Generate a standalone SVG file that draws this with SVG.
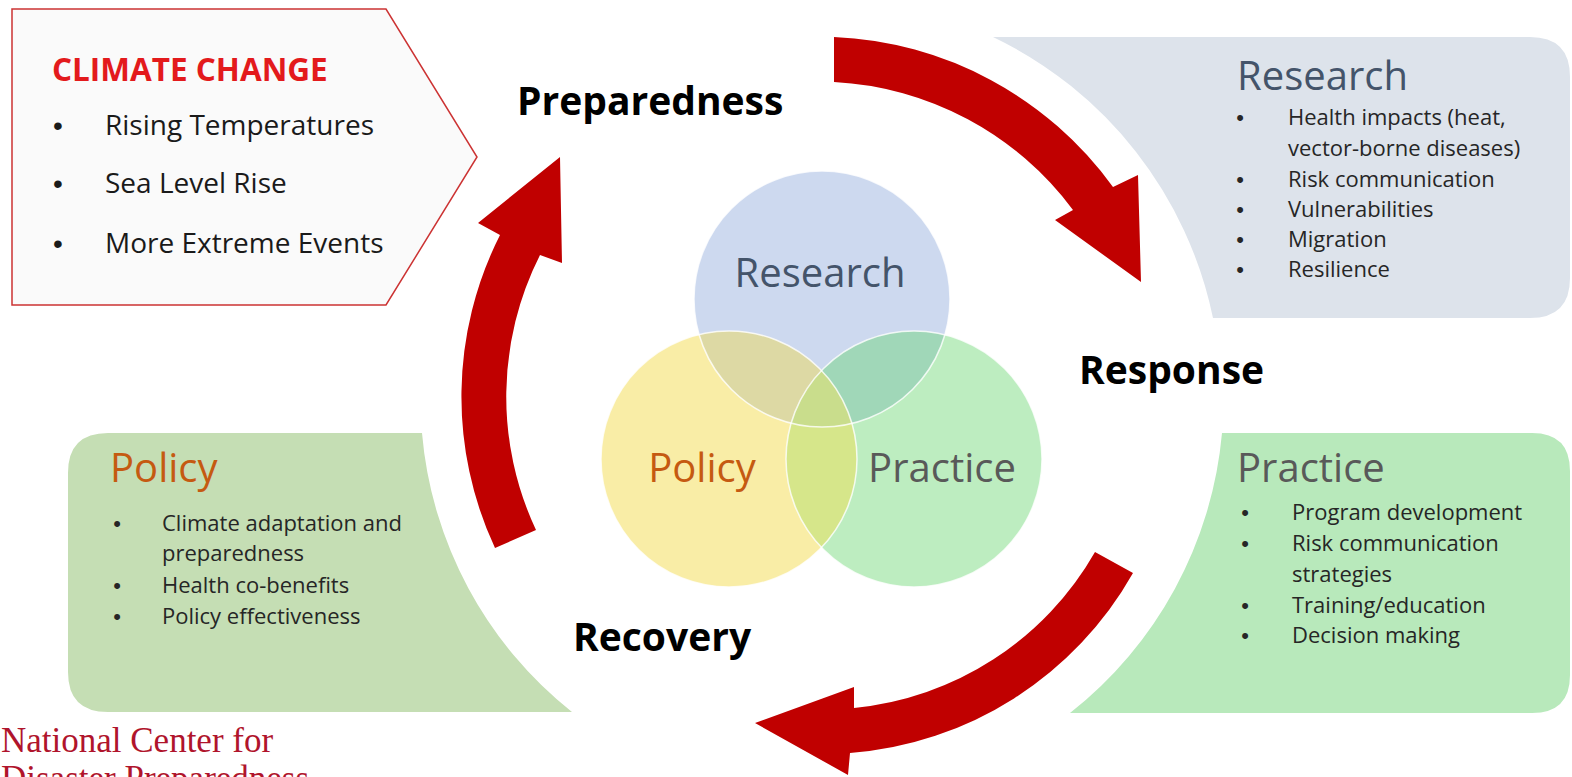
<svg xmlns="http://www.w3.org/2000/svg" width="1572" height="777" viewBox="0 0 1572 777">
<style>
.f{font-family:"Open Sans","Liberation Sans",sans-serif}
.phase{font-family:"Open Sans","Liberation Sans",sans-serif;font-weight:bold;font-size:39px;fill:#000}
.title{font-family:"Open Sans","Liberation Sans",sans-serif;font-size:40px}
.item{font-family:"Open Sans","Liberation Sans",sans-serif;font-size:22px;fill:#262626}
.big{font-family:"Open Sans","Liberation Sans",sans-serif;font-size:28px;fill:#1a1a1a}
.b{font-family:"Liberation Sans",Arial,sans-serif}
.arrow{fill:#c00000}
.ring{fill:none;stroke:#fff;stroke-width:1.5;stroke-opacity:0.8}
</style>
<defs>
<clipPath id="cR"><circle cx="822" cy="299" r="128"/></clipPath>
<clipPath id="cPo"><circle cx="729" cy="459" r="128"/></clipPath>
<clipPath id="cPr"><circle cx="914" cy="459" r="128"/></clipPath>
</defs>
<rect width="1572" height="777" fill="#fff"/>

<g id="research-box">
<path d="M993,37 L1530,37 Q1570,37 1570,77 L1570,278 Q1570,318 1530,318 L1213,318 A402,402 0 0 0 993,37 Z" fill="#dde3eb"/>
<text class="title" x="1237" y="90" fill="#44546a">Research</text>
<g class="item">
<text class="b" x="1240" y="125" text-anchor="middle">•</text><text x="1288" y="125">Health impacts (heat,</text>
<text x="1288" y="156">vector-borne diseases)</text>
<text class="b" x="1240" y="187" text-anchor="middle">•</text><text x="1288" y="187">Risk communication</text>
<text class="b" x="1240" y="217" text-anchor="middle">•</text><text x="1288" y="217">Vulnerabilities</text>
<text class="b" x="1240" y="247" text-anchor="middle">•</text><text x="1288" y="247">Migration</text>
<text class="b" x="1240" y="277" text-anchor="middle">•</text><text x="1288" y="277">Resilience</text>
</g>
</g>

<g id="practice-box">
<path d="M1222,433 L1532,433 Q1570,433 1570,471 L1570,675 Q1570,713 1532,713 L1070,713 A402,402 0 0 0 1222,433 Z" fill="#b8e9bb"/>
<text class="title" x="1237" y="482" fill="#595959">Practice</text>
<g class="item">
<text class="b" x="1245" y="520" text-anchor="middle">•</text><text x="1292" y="520">Program development</text>
<text class="b" x="1245" y="551" text-anchor="middle">•</text><text x="1292" y="551">Risk communication</text>
<text x="1292" y="582">strategies</text>
<text class="b" x="1245" y="613" text-anchor="middle">•</text><text x="1292" y="613">Training/education</text>
<text class="b" x="1245" y="643" text-anchor="middle">•</text><text x="1292" y="643">Decision making</text>
</g>
</g>

<g id="policy-box">
<path d="M422,433 L108,433 Q68,433 68,473 L68,672 Q68,712 108,712 L572,712 A400,400 0 0 1 422,433 Z" fill="#c5deb4"/>
<text class="title" x="110" y="482" fill="#c55a11">Policy</text>
<g class="item">
<text class="b" x="117" y="531" text-anchor="middle">•</text><text x="162" y="531">Climate adaptation and</text>
<text x="162" y="561">preparedness</text>
<text class="b" x="117" y="593" text-anchor="middle">•</text><text x="162" y="593">Health co-benefits</text>
<text class="b" x="117" y="624" text-anchor="middle">•</text><text x="162" y="624">Policy effectiveness</text>
</g>
</g>

<g id="climate-change">
<path d="M12,9 L386,9 L477,157 L386,305 L12,305 Z" fill="#fafafa" stroke="#cc3333" stroke-width="1.5"/>
<text class="f" x="52" y="81" font-size="31.5" font-weight="bold" fill="#e31a1c">CLIMATE CHANGE</text>
<g class="big">
<text class="b" x="58" y="135" text-anchor="middle">•</text><text x="105" y="135">Rising Temperatures</text>
<text class="b" x="58" y="193" text-anchor="middle">•</text><text x="105" y="193">Sea Level Rise</text>
<text class="b" x="58" y="253" text-anchor="middle">•</text><text x="105" y="253">More Extreme Events</text>
</g>
</g>

<g id="venn">
<g id="venn-research"><circle cx="822" cy="299" r="128" fill="#cdd9ef"/></g>
<g id="venn-policy"><circle cx="729" cy="459" r="128" fill="#f9eda6"/></g>
<g id="venn-practice"><circle cx="914" cy="459" r="128" fill="#bdedc0"/></g>
<circle cx="822" cy="299" r="128" fill="#ddd9a4" clip-path="url(#cPo)"/>
<circle cx="822" cy="299" r="128" fill="#a0d7b8" clip-path="url(#cPr)"/>
<circle cx="729" cy="459" r="128" fill="#d6e68a" clip-path="url(#cPr)"/>
<g clip-path="url(#cR)"><circle cx="729" cy="459" r="128" fill="#c9dd8c" clip-path="url(#cPr)"/></g>
<circle class="ring" cx="822" cy="299" r="128"/>
<circle class="ring" cx="729" cy="459" r="128"/>
<circle class="ring" cx="914" cy="459" r="128"/>
<text class="title" x="820" y="287" text-anchor="middle" fill="#44546a">Research</text>
<text class="title" x="702" y="482" text-anchor="middle" fill="#c55a11">Policy</text>
<text class="title" x="942" y="482" text-anchor="middle" fill="#595959">Practice</text>
</g>

<g id="phases">
<text class="phase" x="517" y="115">Preparedness</text>
<text class="phase" x="1079" y="384">Response</text>
<text class="phase" x="573" y="651">Recovery</text>
</g>

<g id="connectors">
<path class="arrow" d="M834,37 A363,363 0 0 1 1113,187 L1138,175 L1141,282 L1055,220 L1073,210 A318,318 0 0 0 834,82 Z"/>
<path class="arrow" d="M1133,573 A356,356 0 0 1 850,753 L848,775 L755,723 L854,687 L854,708 A312,312 0 0 0 1095,552 Z"/>
<path class="arrow" d="M495,548 A358,358 0 0 1 500,235 L478,223 L560,157 L562,263 L540,255 A314,314 0 0 0 536,530 Z"/>
</g>

<g id="logo" font-family="'Liberation Serif',serif" font-size="35" fill="#b0142c">
<text x="1" y="752">National Center for</text>
<text x="1" y="790">Disaster Preparedness</text>
</g>
</svg>
